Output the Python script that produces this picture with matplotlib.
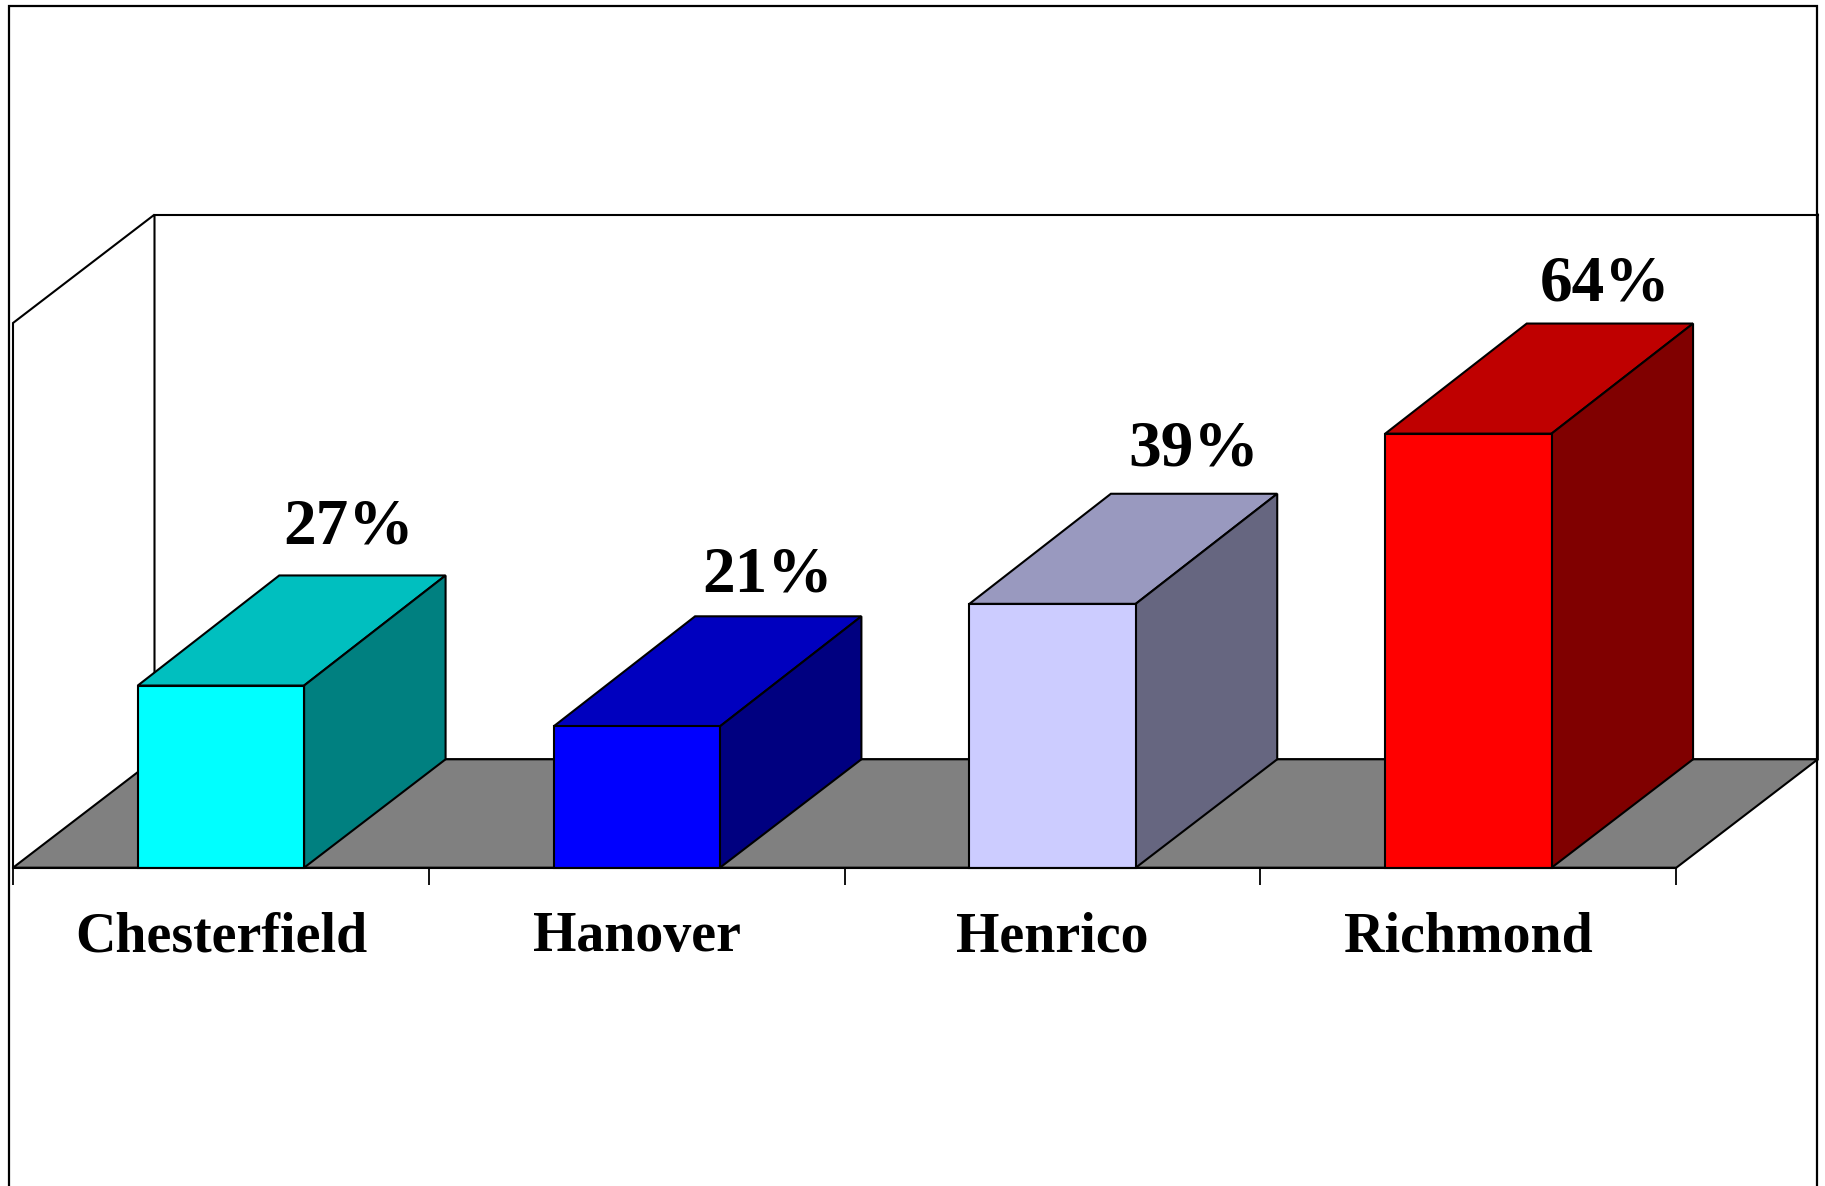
import numpy as np
import matplotlib
matplotlib.use('Agg')
import matplotlib.pyplot as plt
from matplotlib.colors import to_rgb
from matplotlib.lines import Line2D

counties = ['Chesterfield', 'Hanover', 'Henrico', 'Richmond']
percents = [27, 21, 39, 64]
colors = ['#00FFFF', '#0000FF', '#CCCCFF', '#FF0000']
value_labels = ['27%', '21%', '39%', '64%']

# pixel layout of the front plane of the 3d box
W, H = 1825, 1186
x0, x1 = 13, 1676.3
y_floor, y_top = 867.7, 323
depth_px = (141.5, 108.4)
lw = 1.5

# the data labels sit a little differently on each bar, offsets in points
label_dx = [-10, -7.5, -0.5, -3.2]
label_dy = [23, 18, 20, 16.5]
front_sag = 0.25  # front face of a bar is slightly deeper than the floor

plt.rcParams['font.family'] = ['Liberation Serif', 'DejaVu Serif']

fig = plt.figure(figsize=(W / 100, H / 100), dpi=100, facecolor='white')
ax = fig.add_axes([x0 / W, 1 - y_floor / H, (x1 - x0) / W, (y_floor - y_top) / H])
ax.set_xlim(0, 4)
ax.set_ylim(0, 80)
ax.patch.set_visible(False)

dx = depth_px[0] / (x1 - x0) * 4
dy = depth_px[1] / (y_floor - y_top) * 80

# walls
ax.plot([0, 0, dx, dx, 4 + dx, 4 + dx], [0, 80, 80 + dy, dy, dy, 80 + dy],
        color='black', lw=lw, clip_on=False, zorder=1, solid_joinstyle='miter')
ax.plot([dx, 4 + dx], [80 + dy, 80 + dy], color='black', lw=lw, clip_on=False, zorder=1)

# floor
ax.fill([0, 4, 4 + dx, dx], [0, 0, dy, dy], facecolor='#808080', edgecolor='black',
        lw=lw, clip_on=False, zorder=2)

pos = np.arange(len(counties)) + 0.5
bar_w = 0.4
front = np.array(percents) - front_sag
for p, v, f, c in zip(pos, percents, front, colors):
    rgb = np.array(to_rgb(c))
    left, right = p - bar_w / 2, p + bar_w / 2
    ax.fill([left, right, right + dx, left + dx], [f, f, v + dy, v + dy],
            facecolor=rgb * 0.75, edgecolor='black', lw=lw, clip_on=False, zorder=3)
    ax.fill([right, right + dx, right + dx, right], [0, dy, v + dy, f],
            facecolor=rgb * 0.5, edgecolor='black', lw=lw, clip_on=False, zorder=3)
ax.bar(pos, front, width=bar_w, color=colors, edgecolor='black', lw=lw, zorder=4, clip_on=False)

for p, v, s, ox, oy in zip(pos, percents, value_labels, label_dx, label_dy):
    ax.annotate(s, (p + dx, v + dy), xytext=(ox, oy), textcoords='offset points',
                ha='center', va='baseline', fontsize=47, fontweight='bold', zorder=5)

for s in ['top', 'right', 'left']:
    ax.spines[s].set_visible(False)
ax.spines['bottom'].set_linewidth(lw)
ax.spines['bottom'].set_zorder(6)
ax.set_yticks([])
ax.set_xticks(range(5))
ax.set_xticklabels([])
ax.tick_params(axis='x', which='major', length=12.5, width=1.3, color='black')
ax.set_xticks(pos, minor=True)
ax.set_xticklabels(counties, minor=True, fontsize=40.2, fontweight='bold')
ax.tick_params(axis='x', which='minor', length=0, pad=31.5)

# outer frame, runs off the bottom of the picture
fx = [9 / W, 9 / W, 1817 / W, 1817 / W]
fy = [0, 1 - 5.5 / H, 1 - 5.5 / H, 0]
fig.add_artist(Line2D(fx, fy, color='black', lw=1.6, solid_joinstyle='miter'))

plt.savefig('out.png', dpi=100, facecolor='white')
